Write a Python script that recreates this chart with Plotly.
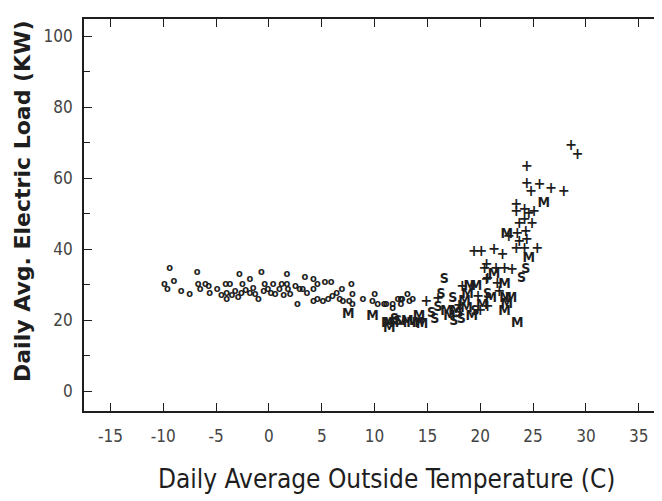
import plotly.graph_objects as go

# Circles ("o")
o_x = [-9.4, -9.9, -9.6, -9.0, -8.3, -7.5, -6.8, -6.7, -6.5, -6.0,
       -5.7, -5.6, -4.9, -4.1, -4.0, -4.0, -3.7, -2.8, -3.2, -2.6,
       -2.5, -1.8, -1.8, -1.3, -0.7, -0.4, -1.0, -0.1, 0.4, 0.6,
       1.0, 1.7, 1.2, 1.7, 1.8, 2.0, 2.5, 2.7, 2.9, 3.4,
       3.2, 3.6, 4.2, 4.2, 4.6, 4.2, 4.6, 5.1, 5.3, 5.6,
       5.9, 6.0, 6.4, 6.7, 6.9, 7.0, 7.8, 7.6, 7.9, 7.9,
       8.9, 10.0, 9.8, 10.3, 10.9, 11.7, 11.7, 12.5, 12.5, 11.1,
       12.2, 12.6, 13.1, 13.3, 13.6, -3.5, -2.2, -1.5, 0.2, 1.4,
       -2.9, -0.5, -4.5]
o_y = [34.5, 30.2, 28.6, 31.0, 28.0, 27.2, 33.6, 30.2, 28.8, 30.0,
       29.4, 27.7, 28.6, 30.0, 27.5, 25.8, 30.0, 32.8, 28.0, 27.5,
       30.0, 31.4, 27.5, 27.2, 33.6, 30.2, 26.0, 28.8, 30.0, 27.2,
       28.8, 33.0, 30.0, 30.2, 28.6, 27.2, 29.4, 24.6, 28.8, 32.2,
       28.6, 27.5, 31.4, 28.6, 30.0, 25.2, 25.8, 25.2, 30.8, 26.0,
       30.8, 26.6, 27.5, 26.0, 28.6, 25.2, 30.0, 25.2, 27.2, 24.4,
       26.0, 27.2, 25.2, 24.4, 24.4, 24.6, 23.2, 26.0, 24.4, 24.4,
       25.8, 26.0, 27.2, 25.2, 25.8, 27.0, 28.5, 29.0, 27.5, 27.0,
       26.5, 28.0, 27.0]

# "M"
m_x = [7.5, 9.8, 11.2, 11.4, 11.4, 12.5, 13.1, 13.6, 14.1, 14.5,
       14.2, 17.1, 18.7, 18.8, 18.5, 19.2, 19.6, 17.7, 19.0, 21.3,
       22.3, 22.9, 22.5, 23.5, 22.5, 24.6, 26.0, 16.8, 20.2, 21.0,
       22.3, 22.4]
m_y = [21.6, 21.0, 19.0, 17.6, 19.0, 19.0, 19.6, 19.0, 19.0, 18.8,
       21.0, 21.0, 23.2, 27.2, 25.2, 21.0, 29.4, 22.4, 29.4, 32.8,
       30.0, 26.0, 24.4, 19.0, 44.0, 37.3, 52.7, 22.4, 24.0, 26.0,
       22.4, 26.0]

# "S"
s_x = [12.2, 11.9, 15.4, 16.3, 16.6, 17.4, 17.5, 18.2, 20.7, 24.3,
       23.9, 15.7, 16.0, 18.0, 19.5]
s_y = [19.6, 20.2, 21.8, 27.2, 31.4, 26.0, 19.6, 20.2, 27.2, 34.2,
       31.7, 20.2, 23.5, 22.0, 22.5]

# "+"
p_x = [14.9, 18.3, 20.4, 20.7, 24.4, 24.4, 24.8, 25.6, 26.7, 27.9,
       23.4, 23.4, 24.2, 24.6, 25.1, 23.7, 24.2, 24.9, 22.7, 23.5,
       24.3, 23.7, 24.4, 23.4, 24.2, 25.4, 19.4, 20.1, 21.3, 22.1,
       20.6, 21.5, 22.3, 23.0, 20.6, 21.6, 20.7, 28.6, 29.2, 18.0,
       19.8, 21.8, 20.0, 16.0]
p_y = [25.2, 29.4, 34.5, 31.7, 63.0, 58.3, 56.0, 58.0, 56.9, 56.0,
       52.4, 50.4, 51.0, 49.9, 50.4, 47.0, 48.2, 47.0, 43.4, 44.3,
       44.8, 42.0, 42.6, 40.0, 40.0, 40.0, 39.2, 39.2, 39.8, 38.4,
       35.6, 34.5, 34.5, 34.2, 31.4, 30.2, 23.8, 69.0, 66.4, 24.0,
       26.5, 28.0, 22.5, 26.0]

x_ticks = [-15, -10, -5, 0, 5, 10, 15, 20, 25, 30, 35]
y_ticks = [0, 20, 40, 60, 80, 100]

x_title = "Daily Average Outside Temperature (C)"
y_title = "Daily Avg. Electric Load (KW)"

ink = "#1e1e1e"
fig = go.Figure()
for xs, ys, ch, sz in [(o_x, o_y, "o", 11), (m_x, m_y, "M", 14),
                       (s_x, s_y, "S", 14), (p_x, p_y, "+", 16)]:
    fig.add_trace(go.Scatter(
        x=xs, y=ys, mode="text", text=[ch] * len(xs),
        textposition="middle center",
        textfont=dict(family="DejaVu Sans Condensed", size=sz, color=ink, weight="bold"),
        showlegend=False, hoverinfo="x+y"))

axis_common = dict(showline=True, linecolor=ink, linewidth=1.8, mirror="ticks",
                   ticks="inside", ticklen=8, tickcolor=ink, tickwidth=1.2,
                   showgrid=False, zeroline=False, automargin=False,
                   tickfont=dict(family="DejaVu Sans Condensed", size=17, color="#444"))

fig.update_xaxes(range=[-17.5, 37.2], tickvals=x_ticks,
                 ticktext=[str(t) for t in x_ticks],
                 ticklabelstandoff=9, **axis_common)
fig.update_yaxes(range=[-5.6, 104.8], tickvals=y_ticks,
                 ticktext=[str(t) for t in y_ticks],
                 ticklabelstandoff=6,
                 minor=dict(dtick=10, ticks="inside", ticklen=6, tickcolor=ink),
                 **axis_common)

fig.add_annotation(text=x_title, xref="paper", yref="paper", x=0.5225, y=-0.1735,
                   xanchor="center", yanchor="middle", showarrow=False,
                   font=dict(family="DejaVu Sans Condensed", size=26, color=ink))
fig.add_annotation(text=y_title, xref="paper", yref="paper", x=-0.106, y=0.535,
                   xanchor="center", yanchor="middle", showarrow=False, textangle=-90,
                   font=dict(family="DejaVu Sans", size=22, color=ink, weight="bold"))

fig.update_layout(width=662, height=501,
                  margin=dict(l=76, r=8, t=11, b=98),
                  plot_bgcolor="white", paper_bgcolor="white")

fig.write_html("out.html")
